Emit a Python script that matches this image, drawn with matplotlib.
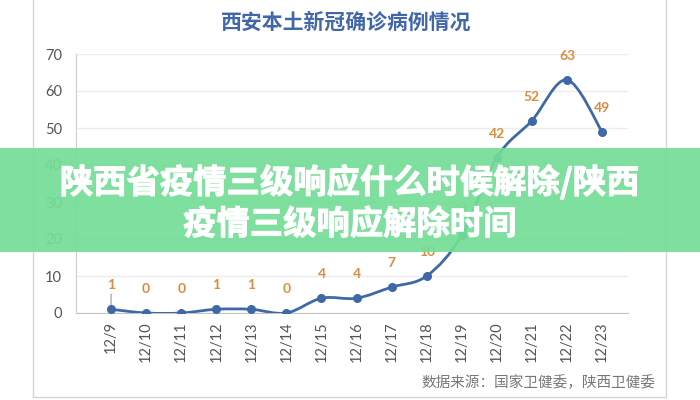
import numpy as np
import matplotlib.pyplot as plt
import matplotlib.patheffects as pe
from matplotlib.path import Path
from matplotlib.patches import PathPatch, Rectangle

plt.rcParams['font.family'] = ['Noto Sans CJK SC', 'DejaVu Sans']

dates = ["12/9", "12/10", "12/11", "12/12", "12/13", "12/14", "12/15", "12/16",
         "12/17", "12/18", "12/19", "12/20", "12/21", "12/22", "12/23"]
cases = [1, 0, 0, 1, 1, 0, 4, 4, 7, 10, 21, 42, 52, 63, 49]

title = "西安本土新冠确诊病例情况"
source = "数据来源：国家卫健委，陕西卫健委"
banner = "陕西省疫情三级响应什么时候解除/陕西\n疫情三级响应解除时间"

line_color = "#3f69a6"
label_color = "#d98c3f"


def smooth_path(xs, ys, t=1 / 6):
    # Catmull-Rom style bezier through the points (like excel smoothed line)
    verts = [(xs[0], ys[0])]
    codes = [Path.MOVETO]
    n = len(xs)
    for i in range(n - 1):
        x0, y0 = (xs[i - 1], ys[i - 1]) if i > 0 else (xs[i], ys[i])
        x1, y1 = xs[i], ys[i]
        x2, y2 = xs[i + 1], ys[i + 1]
        x3, y3 = (xs[i + 2], ys[i + 2]) if i + 2 < n else (x2, y2)
        c1 = (x1 + (x2 - x0) * t, y1 + (y2 - y0) * t)
        c2 = (x2 - (x3 - x1) * t, y2 - (y3 - y1) * t)
        verts += [c1, c2, (x2, y2)]
        codes += [Path.CURVE4] * 3
    return Path(verts, codes)


fig = plt.figure(figsize=(7, 4), dpi=100)
fig.patch.set_facecolor("white")

# outer frame of the picture
fig.patches.append(Rectangle((33 / 700, 3 / 400), 633 / 700, 1.1, transform=fig.transFigure,
                             fill=False, edgecolor="#d4d4d4", linewidth=1))

ax = fig.add_axes([76 / 700, 87 / 400, 552 / 700, 259 / 400])
x = np.arange(len(dates))
ax.set_xlim(-1, len(dates) - 0.26)
ax.set_ylim(0, 70)

ax.add_patch(PathPatch(smooth_path(x, cases), fill=False, edgecolor=line_color,
                       linewidth=2, zorder=3))
ax.plot(x, cases, "o", color=line_color, markersize=5.5, zorder=4)

for xi, v in zip(x, cases):
    ax.annotate(str(v), (xi, v), xytext=(0, 13), textcoords="offset points",
                ha="center", va="bottom", color=label_color, fontsize=10,
                fontweight="bold", family=["Lato", "DejaVu Sans"])
# leader line of the first label
ax.annotate("", (x[0], cases[0]), xytext=(0, 13), textcoords="offset points",
            arrowprops=dict(arrowstyle="-", color="#9a9a9a", lw=0.8))

ax.set_yticks(range(0, 71, 10))
ax.set_xticks(x)
ax.set_xticklabels(dates, rotation=90, family=["Lato", "DejaVu Sans"])
ax.tick_params(axis="both", length=0, labelsize=10.5, colors="#555555")
ax.tick_params(axis="y", pad=10)
ax.tick_params(axis="x", pad=6)
for lab in ax.get_yticklabels():
    lab.set_family(["Lato", "DejaVu Sans"])
ax.grid(axis="y", color="#ededed", linewidth=1)
ax.set_axisbelow(True)
for side in ["top", "right"]:
    ax.spines[side].set_visible(False)
ax.spines["left"].set_color("#cfcfcf")
ax.spines["bottom"].set_color("#c4c4c4")

fig.text(346 / 700, 1 - 22 / 400, title, ha="center", va="center", fontsize=15,
         fontweight="bold", color="#4267a9")
fig.text(655 / 700, 1 - 383 / 400, source, ha="right", va="center", fontsize=10.5,
         color="#777777")

# green banner over the chart
fig.patches.append(Rectangle((0, 1 - 252 / 400), 1, 104 / 400, transform=fig.transFigure,
                             facecolor="#74dd97", edgecolor="none", alpha=0.93, zorder=10))
fig.text(0.5, 1 - 203 / 400, banner, ha="center", va="center", fontsize=24,
         fontweight="heavy", color="white", linespacing=1.32, zorder=11,
         path_effects=[pe.withStroke(linewidth=0.7, foreground="white")])

fig.savefig("out.png", dpi=100)
